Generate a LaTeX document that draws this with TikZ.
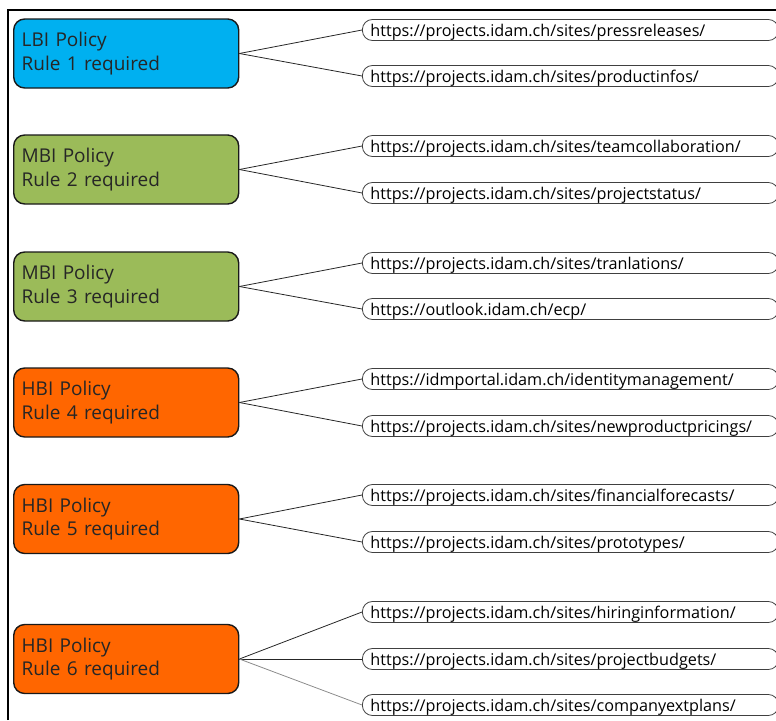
\documentclass[tikz,border=0pt]{standalone}
\usepackage{fontspec}
\setmainfont{Open Sans}
\usetikzlibrary{positioning}
\definecolor{lbiblue}{HTML}{00B0F0}
\definecolor{mbigreen}{HTML}{9BBB59}
\definecolor{hbiorange}{HTML}{FF6600}
\tikzset{
  policy/.style={draw=black!90, line width=1.4pt, rounded corners=11pt, anchor=west,
    minimum width=225pt, minimum height=69pt, text width=209pt, inner xsep=8pt,
    align=left, font=\fontsize{19}{23.5}\selectfont, text=black!85},
  url/.style={draw=black!75, line width=0.8pt, rounded corners=10pt, anchor=west,
    minimum width=416pt, minimum height=21pt, text width=400pt, inner xsep=8pt,
    inner ysep=0pt, text height=13pt, text depth=0pt, align=left,
    font=\fontsize{16.2}{17}\selectfont},
  link/.style={draw=black!85, line width=0.8pt}
}
\begin{document}
\begin{tikzpicture}[x=1pt, y=-1pt]
    \useasboundingbox (0,0) rectangle (776,720);
    \clip (0,0) rectangle (776,720);
    \draw[line width=2pt] (8,720) -- (8,10) -- (776,10);
    % policies
    \node[policy, fill=lbiblue] (p1) at (13,53.5) {LBI Policy\\Rule 1 required};
    \node[policy, fill=mbigreen] (p2) at (13,169.5) {MBI Policy\\Rule 2 required};
    \node[policy, fill=mbigreen] (p3) at (13,286.5) {MBI Policy\\Rule 3 required};
    \node[policy, fill=hbiorange] (p4) at (13,402.5) {HBI Policy\\Rule 4 required};
    \node[policy, fill=hbiorange] (p5) at (13,519) {HBI Policy\\Rule 5 required};
    \node[policy, fill=hbiorange] (p6) at (13,659) {HBI Policy\\Rule 6 required};
    % sites
    \node[url] (u1a) at (362,30) {https://projects.idam.ch/sites/pressreleases/};
    \node[url] (u1b) at (362,76) {https://projects.idam.ch/sites/productinfos/};
    \node[url] (u2a) at (362,146) {https://projects.idam.ch/sites/teamcollaboration/};
    \node[url] (u2b) at (362,193) {https://projects.idam.ch/sites/projectstatus/};
    \node[url] (u3a) at (362,263) {https://projects.idam.ch/sites/tranlations/};
    \node[url] (u3b) at (362,309) {https://outlook.idam.ch/ecp/};
    \node[url] (u4a) at (362,379) {https://idmportal.idam.ch/identitymanagement/};
    \node[url] (u4b) at (362,426) {https://projects.idam.ch/sites/newproductpricings/};
    \node[url] (u5a) at (362,495) {https://projects.idam.ch/sites/financialforecasts/};
    \node[url] (u5b) at (362,542) {https://projects.idam.ch/sites/prototypes/};
    \node[url] (u6a) at (362,612) {https://projects.idam.ch/sites/hiringinformation/};
    \node[url] (u6b) at (362,659) {https://projects.idam.ch/sites/projectbudgets/};
    \node[url] (u6c) at (362,705) {https://projects.idam.ch/sites/companyextplans/};
    % links
    \draw[link] (p1.east) -- (u1a.west);
    \draw[link] (p1.east) -- (u1b.west);
    \draw[link] (p2.east) -- (u2a.west);
    \draw[link] (p2.east) -- (u2b.west);
    \draw[link] (p3.east) -- (u3a.west);
    \draw[link] (p3.east) -- (u3b.west);
    \draw[link] (p4.east) -- (u4a.west);
    \draw[link] (p4.east) -- (u4b.west);
    \draw[link] (p5.east) -- (u5a.west);
    \draw[link] (p5.east) -- (u5b.west);
    \draw[link] (p6.east) -- (u6a.west);
    \draw[link] (p6.east) -- (u6b.west);
    \draw[link, draw=black!45] (p6.east) -- (u6c.west);
\end{tikzpicture}
\end{document}
